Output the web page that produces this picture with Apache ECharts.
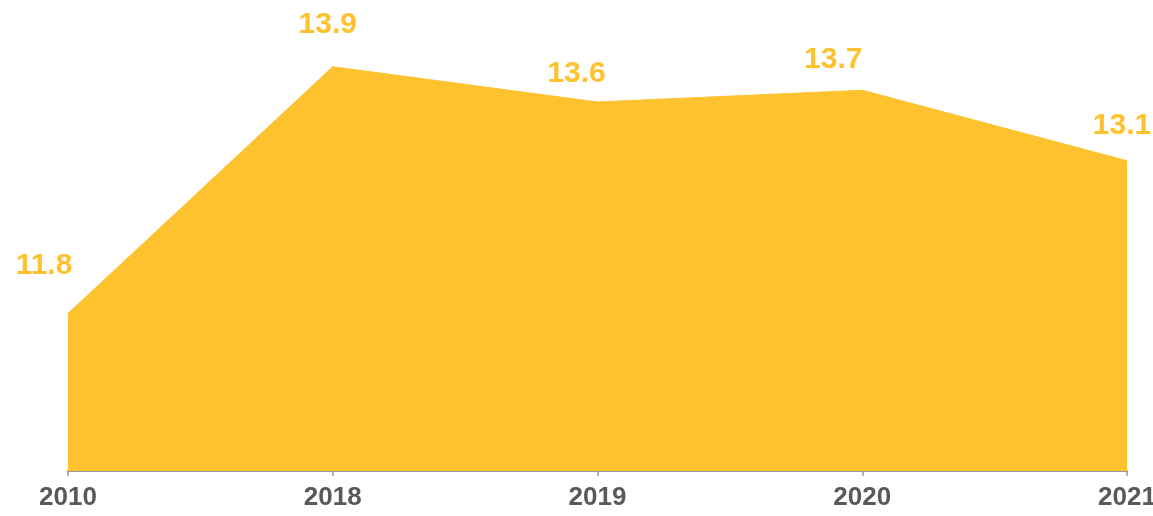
<!DOCTYPE html>
<html>
<head>
<meta charset="utf-8">
<script src="https://cdn.jsdelivr.net/npm/echarts@6/dist/echarts.min.js"></script>
<style>
  html, body { margin: 0; padding: 0; background: #fff; }
  #chart { width: 1153px; height: 516px; }
</style>
</head>
<body>
<div id="chart"></div>
<script>
var years = ['2010', '2018', '2019', '2020', '2021'];
var values = [11.8, 13.9, 13.6, 13.7, 13.1];
// label nudges, px from the point (the labels in the picture sit a bit off-centre)
var labelOffsets = [[-24, -32], [-5, -27], [-21, -13], [-29, -15], [-5, -20]];

var yellow = '#FEC22F';
var myChart = echarts.init(document.getElementById('chart'));

var option = {
  backgroundColor: '#fff',
  animation: false,
  grid: { left: 68, right: 26, top: 55, bottom: 45, outerBoundsMode: 'none', containLabel: false },
  xAxis: {
    type: 'category',
    data: years,
    boundaryGap: false,
    axisLine: { lineStyle: { color: '#9a9a9a', width: 2 } },
    axisTick: { alignWithLabel: true, length: 5, lineStyle: { color: '#9a9a9a', width: 1.5 } },
    axisLabel: {
      color: '#595959',
      fontFamily: 'Liberation Sans, Arial, sans-serif',
      fontWeight: 'bold',
      fontSize: 26,
      margin: 14
    }
  },
  yAxis: {
    type: 'value',
    min: 10.46,
    max: 14,
    show: false,
    splitLine: { show: false }
  },
  series: [{
    type: 'line',
    data: values.map(function (v, i) {
      return { value: v, label: { offset: labelOffsets[i] } };
    }),
    symbol: 'circle',
    symbolSize: 1,
    itemStyle: { color: yellow },
    lineStyle: { color: yellow, width: 1 },
    areaStyle: { color: yellow, opacity: 1 },
    label: {
      show: true,
      position: 'top',
      distance: 0,
      color: yellow,
      fontFamily: 'Liberation Sans, Arial, sans-serif',
      fontWeight: 'bold',
      fontSize: 30,
      formatter: function (p) { return p.value.toFixed(1); }
    }
  }]
};
myChart.setOption(option);
</script>
</body>
</html>
